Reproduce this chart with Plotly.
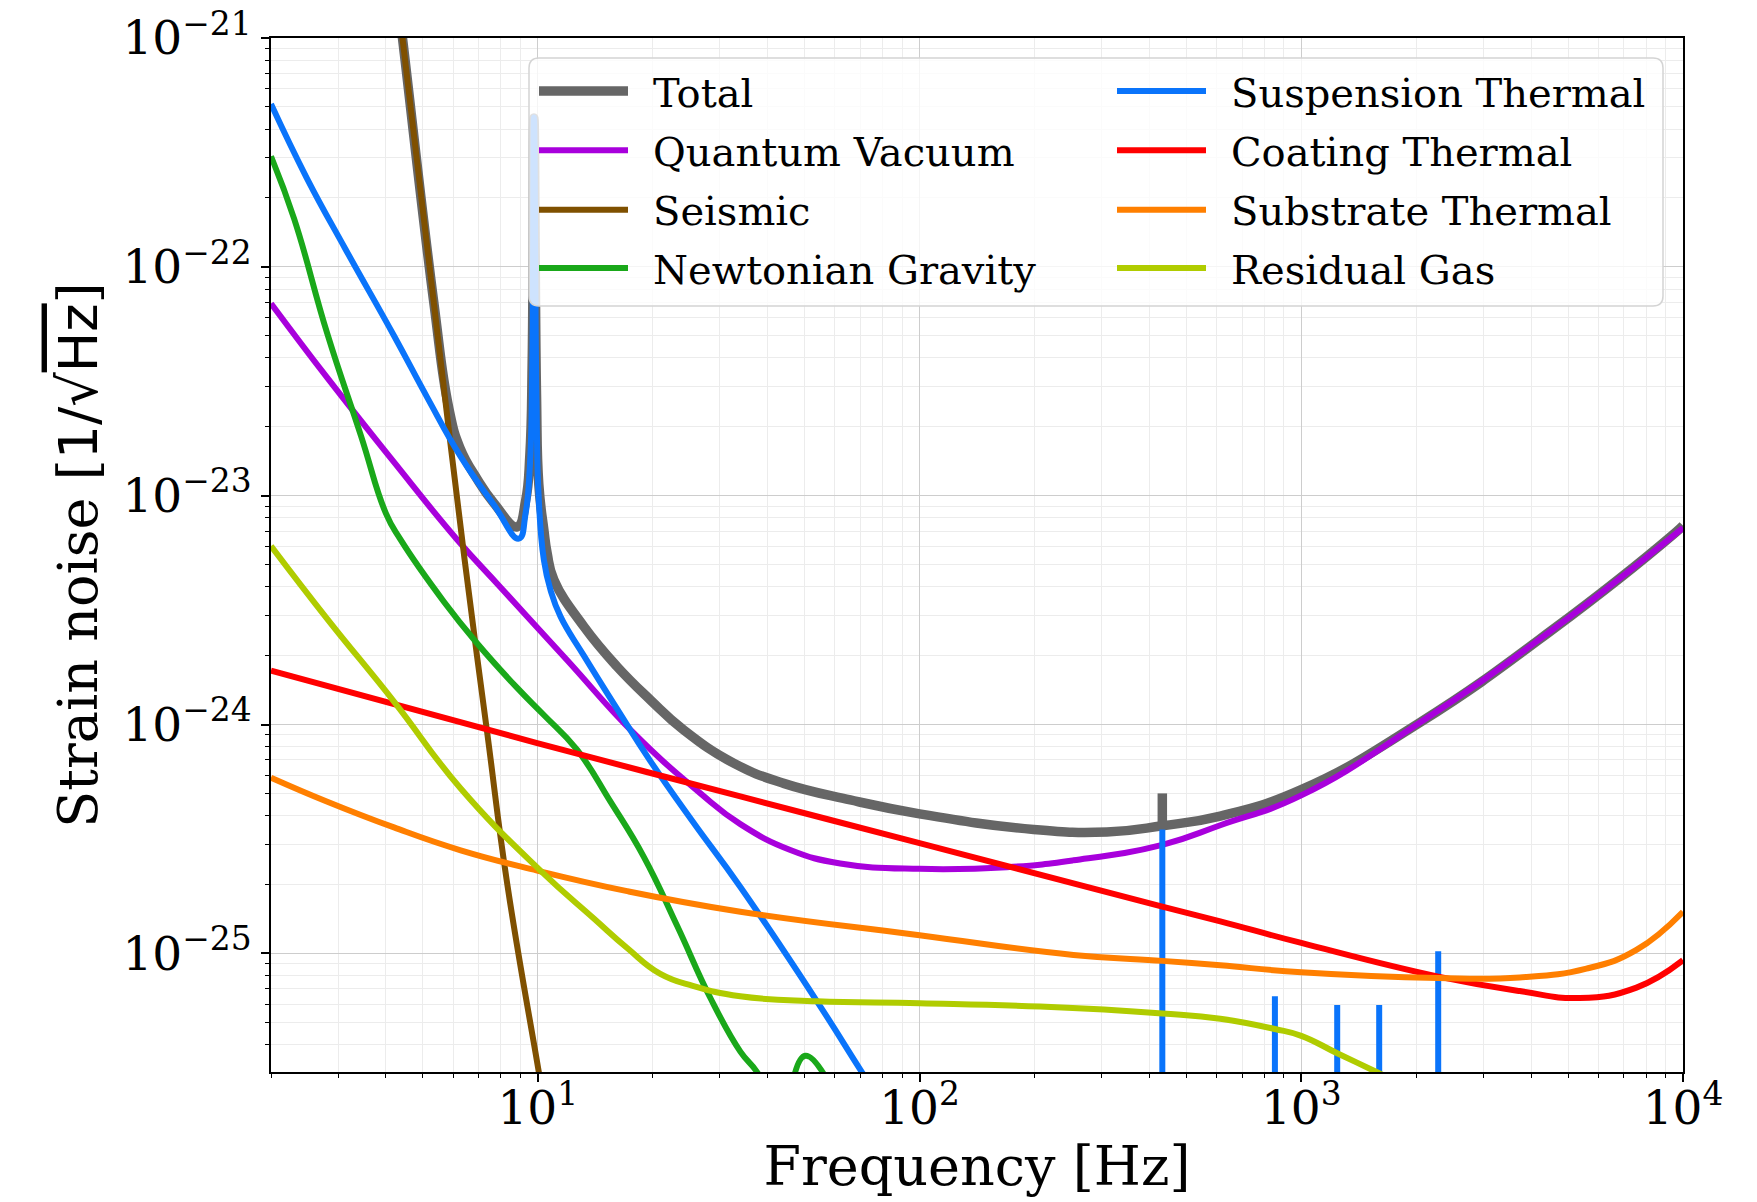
import numpy as np
import plotly.graph_objects as go

FONT = "DejaVu Serif"

# ---------------- data (frequency in Hz, strain noise in 1/sqrt(Hz)) ----------------
total_f = [4.3, 4.42, 5.33, 5.85, 6.25, 6.94, 7.67, 8.83, 9.29, 9.53, 9.67, 9.77, 9.92,
           10.06, 10.37, 10.58, 11.02, 13.2, 16.13, 19.72, 24.11, 32.58, 44.06,
           65.87, 100, 199, 309.6, 432.5, 613.5, 1000, 2046, 4571, 9419, 10000]
total_h = [1.45e-21, 1.0e-21, 7.15e-23, 2.4e-23, 1.62e-23, 1.18e-23, 9.29e-24, 7.31e-24,
           9.5e-24, 1.5e-23, 4.0e-23, 4.47e-22, 2.8e-23, 1.12e-23, 7.1e-24, 5.61e-24,
           4.29e-24, 2.68e-24, 1.79e-24, 1.28e-24, 9.46e-25, 6.78e-25, 5.53e-25,
           4.68e-25, 4.07e-25, 3.48e-25, 3.39e-25, 3.61e-25, 3.98e-25, 5.19e-25, 1.02e-24,
           2.61e-24, 6.76e-24, 7.41e-24]
total_spike_f = [432.5, 432.5]
total_spike_h = [3.61e-25, 5.0e-25]

quantum_f = [2.0, 2.81, 4.2, 6.15, 7.98, 11.94, 17.84, 26.67, 33.93, 45.87, 61.99, 100,
             169.3, 253, 432.5, 613.5, 1000, 2046, 4571, 10000]
quantum_h = [6.92e-23, 3.27e-23, 1.40e-23, 6.42e-24, 3.98e-24, 1.91e-24, 9.16e-25, 5.0e-25,
             3.67e-25, 2.83e-25, 2.47e-25, 2.34e-25, 2.38e-25, 2.55e-25, 2.98e-25, 3.63e-25,
             4.9e-25, 1.02e-24, 2.61e-24, 7.24e-24]

seismic_f = [4.3, 4.42, 5.33, 6.43, 7.37, 8.32, 10.06, 10.6]
seismic_h = [1.45e-21, 1.0e-21, 7.15e-23, 5.25e-24, 9.2e-25, 2.0e-25, 3.03e-26, 1.8e-26]

newton_f = [2.0, 2.3, 2.81, 3.44, 4.0, 4.37, 5.675, 6.94, 8.83, 10.37, 12.68, 15.5, 18.95,
            23.17, 28.32, 33.93, 37.52, 41.0]
newton_h = [3.04e-22, 1.62e-22, 5.09e-23, 1.83e-23, 8.37e-24, 6.42e-24, 3.44e-24, 2.26e-24,
            1.445e-24, 1.10e-24, 7.74e-25, 4.6e-25, 2.64e-25, 1.32e-25, 6.38e-26, 3.72e-26,
            3.03e-26, 2.24e-26]
newton_bump_f = [46.2, 50.2, 58.9]
newton_bump_h = [2.55e-26, 3.57e-26, 2.57e-26]

susp_f = [2.0, 2.48, 3.13, 4.2, 5.13, 6.28, 7.67, 8.92, 9.29, 9.53, 9.67, 9.77, 9.92,
          10.06, 10.37, 10.79, 11.47, 13.2, 16.13, 19.72, 25.59, 33.93, 53.87, 70.6, 80]
susp_h = [5.15e-22, 2.45e-22, 1.2e-22, 5.0e-23, 2.69e-23, 1.48e-23, 9.12e-24,
          6.49e-24, 8.39e-24, 1.34e-23, 3.67e-23, 4.49e-22, 2.63e-23, 9.59e-24, 5.25e-24,
          3.88e-24, 2.96e-24, 2.0e-24, 1.17e-24, 6.92e-25, 3.72e-25, 1.95e-25, 6.17e-26,
          3.03e-26, 2.2e-26]
violin_f = [432.5, 853, 1242, 1600, 2284]
violin_top = [3.48e-25, 6.49e-26, 5.94e-26, 5.94e-26, 1.02e-25]
violin_base = 1.0e-26

coating_f = [2.0, 9.96, 33.93, 100, 432.5, 613.5, 1000, 2284, 3736, 5366, 7551, 10000]
coating_h = [1.72e-24, 8.3e-25, 4.85e-25, 3.03e-25, 1.6e-25, 1.38e-25, 1.11e-25, 7.91e-26,
             6.84e-26, 6.38e-26, 7.08e-26, 9.33e-26]

substrate_f = [2.0, 2.81, 4.2, 6.28, 9.96, 17.14, 33.93, 100, 253, 432.5, 613.5, 1000, 2284,
               3736, 5585, 7551, 10000]
substrate_h = [5.86e-25, 4.6e-25, 3.55e-25, 2.82e-25, 2.3e-25, 1.87e-25, 1.52e-25, 1.2e-25,
               9.84e-26, 9.27e-26, 8.87e-26, 8.26e-26, 7.8e-26, 7.85e-26, 8.57e-26, 1.035e-25,
               1.52e-25]

gas_f = [2.0, 2.81, 4.2, 6.28, 10.16, 14.02, 17.14, 20.94, 25.59, 33.93, 53.87, 100, 207,
         432.5, 613.5, 853, 1000, 1242, 1575, 1995]
gas_h = [6.03e-24, 2.89e-24, 1.26e-24, 5.25e-25, 2.3e-25, 1.42e-25, 1.055e-25, 8.13e-26,
         7.19e-26, 6.49e-26, 6.17e-26, 6.05e-26, 5.85e-26, 5.46e-26, 5.18e-26, 4.67e-26,
         4.36e-26, 3.66e-26, 3.03e-26, 2.5e-26]

x_tick_vals = [10, 100, 1000, 10000]
x_tick_text = ["10<sup>1</sup>", "10<sup>2</sup>", "10<sup>3</sup>", "10<sup>4</sup>"]
y_tick_vals = [1e-25, 1e-24, 1e-23, 1e-22, 1e-21]
y_tick_text = ["10<sup>\u221225</sup>", "10<sup>\u221224</sup>", "10<sup>\u221223</sup>",
               "10<sup>\u221222</sup>", "10<sup>\u221221</sup>"]

# ---------------- layout geometry ----------------
W, H = 1757, 1202
L, R, T, B = 271, 74, 38, 130
PW, PH = W - L - R, H - T - B


def px_x(px):
    return (px - L) / PW


def px_y(py):
    return 1 - (py - T) / PH


def join(*parts):
    xs, ys = [], []
    for i, (a, b) in enumerate(parts):
        if i:
            xs.append(None)
            ys.append(None)
        xs += list(a)
        ys += list(b)
    return xs, ys


fig = go.Figure()

series = [
    ("Total", "#666666", 9.5, join((total_f, total_h), (total_spike_f, total_spike_h))),
    ("Quantum Vacuum", "#a800dc", 6, join((quantum_f, quantum_h))),
    ("Seismic", "#7f5000", 6, join((seismic_f, seismic_h))),
    ("Newtonian Gravity", "#1aa81a", 6, join((newton_f, newton_h), (newton_bump_f, newton_bump_h))),
    ("Suspension Thermal", "#0a74fb", 6,
     join((susp_f, susp_h), *[([f, f], [violin_base, t]) for f, t in zip(violin_f, violin_top)])),
    ("Coating Thermal", "#ff0000", 6, join((coating_f, coating_h))),
    ("Substrate Thermal", "#ff7f00", 6, join((substrate_f, substrate_h))),
    ("Residual Gas", "#b0cc00", 6, join((gas_f, gas_h))),
]

# legend positions (two columns, four rows) in pixels
col_x = [534, 1112]
row_y = [91, 150.3, 209.7, 268]
legend_layouts = {}
for i, (name, color, width, (xs, ys)) in enumerate(series):
    lname = "legend" if i == 0 else f"legend{i + 1}"
    fig.add_trace(go.Scatter(
        x=xs, y=ys, mode="lines", name="\u2002" + name,
        line=dict(color=color, width=width, shape="spline", smoothing=1.3),
        connectgaps=False, legend=lname,
    ))
    col = 0 if i < 4 else 1
    row = i % 4
    legend_layouts[lname] = dict(
        x=px_x(col_x[col]), y=px_y(row_y[row]), xanchor="left", yanchor="middle",
        bgcolor="rgba(0,0,0,0)", borderwidth=0, itemwidth=89,
        font=dict(family=FONT, size=40, color="black"),
    )

# legend frame
x0, x1 = px_x(529), px_x(1663)
y0, y1 = px_y(306), px_y(58)
rx, ry = 10 / PW, 10 / PH
path = (f"M{x0 + rx},{y1} L{x1 - rx},{y1} Q{x1},{y1} {x1},{y1 - ry} "
        f"L{x1},{y0 + ry} Q{x1},{y0} {x1 - rx},{y0} L{x0 + rx},{y0} "
        f"Q{x0},{y0} {x0},{y0 + ry} L{x0},{y1 - ry} Q{x0},{y1} {x0 + rx},{y1} Z")
fig.add_shape(type="path", path=path, xref="paper", yref="paper", layer="above",
              fillcolor="rgba(255,255,255,0.8)", line=dict(color="#d4d4d4", width=1.5))

x_minor = [m * 10 ** k for k in range(0, 4) for m in range(2, 10)]
y_minor = [m * 10.0 ** k for k in range(-26, -21) for m in range(2, 10)]

axis_common = dict(
    type="log", showline=True, linecolor="black", linewidth=1.8, mirror=True,
    ticks="outside", ticklen=8, tickwidth=1.6, tickcolor="black",
    tickfont=dict(family=FONT, size=47, color="black"),
    showgrid=True, gridcolor="#cdcdcd", gridwidth=1.2, zeroline=False, automargin=False,
)

ytitle = ("Strain noise [<span style=\"font-family:'DejaVu Sans'\">1/\u221a</span>"
          "<span style=\"font-family:'DejaVu Sans';text-decoration:overline\">Hz</span>]")

fig.update_layout(
    width=W, height=H,
    margin=dict(l=L, r=R, t=T, b=B),
    paper_bgcolor="white", plot_bgcolor="white",
    showlegend=True,
    xaxis=dict(
        **axis_common, range=[np.log10(2.0), 4], tickmode="array",
        tickvals=x_tick_vals, ticktext=x_tick_text, ticklabelstandoff=-14,
        minor=dict(tickmode="array", tickvals=x_minor, ticks="outside", ticklen=4.5,
                   tickwidth=1.2, tickcolor="black", showgrid=True, gridcolor="#ececec",
                   gridwidth=1),
        title=dict(text="Frequency [Hz]", font=dict(family=FONT, size=54, color="black"),
                   standoff=10),
    ),
    yaxis=dict(
        **axis_common, range=[np.log10(3.03e-26), -21], tickmode="array",
        tickvals=y_tick_vals, ticktext=y_tick_text,
        minor=dict(tickmode="array", tickvals=y_minor, ticks="outside", ticklen=4.5,
                   tickwidth=1.2, tickcolor="black", showgrid=True, gridcolor="#ececec",
                   gridwidth=1),
        title=dict(text=ytitle, font=dict(family=FONT, size=54, color="black"), standoff=8),
    ),
    **legend_layouts,
)

fig.write_html("out.html")
